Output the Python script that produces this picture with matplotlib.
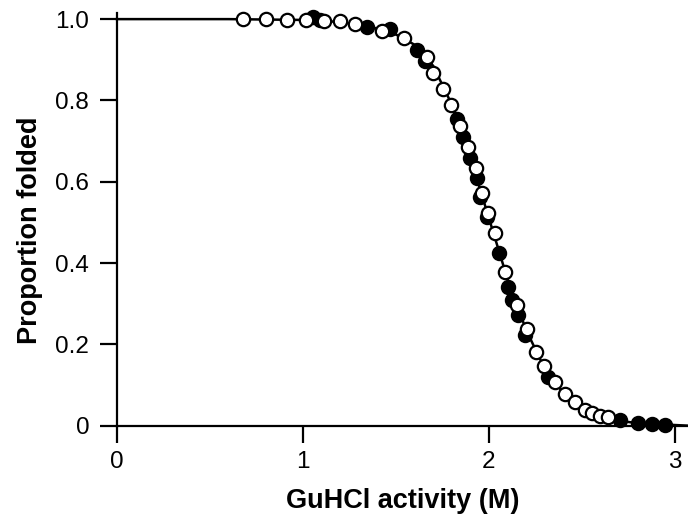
import numpy as np
from matplotlib import pyplot as plt

plt.rcParams['font.family'] = ['Liberation Sans', 'DejaVu Sans']

# open symbols (GuHCl activity, proportion folded)
open_x = [0.677, 0.801, 0.914, 1.016, 1.113, 1.199, 1.280, 1.425, 1.543, 1.667,
          1.699, 1.753, 1.796, 1.844, 1.887, 1.930, 1.962, 1.995, 2.032, 2.086,
          2.151, 2.204, 2.253, 2.296, 2.355, 2.409, 2.462, 2.516, 2.554, 2.597, 2.640]
open_y = [1.0, 1.0, 0.997, 0.997, 0.995, 0.995, 0.989, 0.972, 0.953, 0.906,
          0.867, 0.827, 0.788, 0.736, 0.685, 0.633, 0.572, 0.523, 0.474, 0.378,
          0.297, 0.238, 0.182, 0.147, 0.108, 0.078, 0.058, 0.039, 0.031, 0.024, 0.021]

# filled symbols
fill_x = [1.054, 1.091, 1.344, 1.468, 1.613, 1.656, 1.828, 1.860, 1.898, 1.935,
          1.952, 1.989, 2.054, 2.102, 2.124, 2.156, 2.194, 2.317, 2.704, 2.801,
          2.876, 2.946]
fill_y = [1.004, 0.999, 0.980, 0.975, 0.923, 0.896, 0.754, 0.710, 0.658, 0.609,
          0.562, 0.513, 0.424, 0.341, 0.309, 0.272, 0.223, 0.120, 0.014, 0.007,
          0.004, 0.002]

# fitted curve
fit_x = [0.0, 0.6, 1.0, 1.2, 1.4, 1.5, 1.6, 1.7, 1.8, 1.9, 2.0, 2.1, 2.2,
         2.3, 2.4, 2.5, 2.6, 2.7, 2.8, 3.07]
fit_y = [1.0, 1.0, 0.998, 0.993, 0.977, 0.962, 0.937, 0.885, 0.79, 0.66, 0.51,
         0.36, 0.235, 0.14, 0.08, 0.045, 0.024, 0.012, 0.006, 0.0]

fig = plt.figure(figsize=(6.88, 5.21), dpi=100)
ax = fig.add_axes([0.170, 0.183, 0.830, 0.792])

ax.plot(fit_x, fit_y, color='black', lw=1.8, zorder=2, clip_on=False)
ax.plot(fill_x, fill_y, 'o', ms=9.6, mfc='black', mec='black', mew=1.5,
        zorder=3, clip_on=False)
ax.plot(open_x, open_y, 'o', ms=9.6, mfc='white', mec='black', mew=1.6,
        zorder=4, clip_on=False)

ax.set_xlim(0, 3.07)
ax.set_ylim(0, 1.015)
ax.set_xticks([0, 1, 2, 3])
ax.set_xticklabels(['0', '1', '2', '3'])
ax.set_yticks([0, 0.2, 0.4, 0.6, 0.8, 1.0])
ax.set_yticklabels(['0', '0.2', '0.4', '0.6', '0.8', '1.0'])

for s in ['top', 'right']:
    ax.spines[s].set_visible(False)
for s in ['left', 'bottom']:
    ax.spines[s].set_linewidth(1.6)

ax.tick_params(direction='out', length=12, width=1.6, labelsize=17.5, pad=6)
ax.tick_params(axis='y', pad=8)
ax.set_xlabel('GuHCl activity (M)', fontsize=19.5, fontweight='bold', labelpad=11)
ax.set_ylabel('Proportion folded', fontsize=19.5, fontweight='bold', labelpad=9)
ax.yaxis.label.set_y(0.474)

fig.savefig('out.png', dpi=100)
